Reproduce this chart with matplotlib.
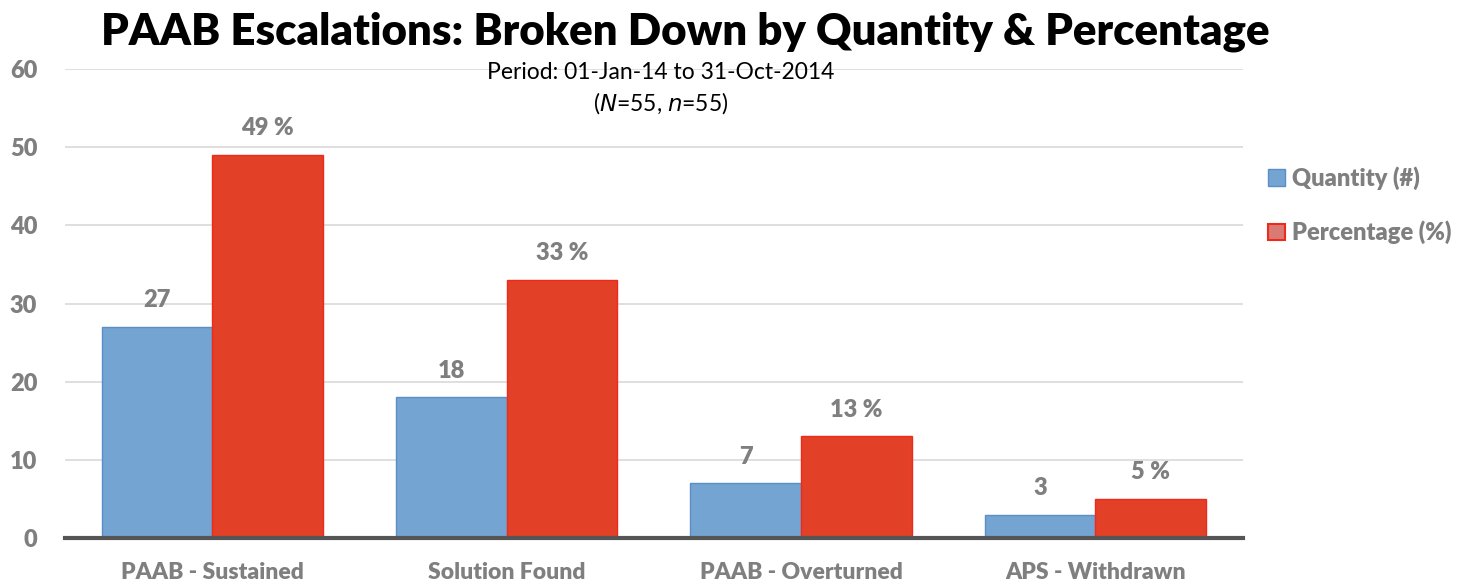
import numpy as np
import matplotlib
matplotlib.use("Agg")
import matplotlib.pyplot as plt
from matplotlib.patches import Patch

plt.rcParams['font.family'] = ['Lato', 'DejaVu Sans']

categories = ['PAAB - Sustained', 'Solution Found', 'PAAB - Overturned', 'APS - Withdrawn']
quantity = [27, 18, 7, 3]
percentage = [49, 33, 13, 5]
yticks = [0, 10, 20, 30, 40, 50, 60]

blue = '#73A4D2'
blue_edge = '#5B8EC7'
red = '#E34028'
red_edge = '#EE2A1A'
grey = '#7F7F7F'

fig = plt.figure(figsize=(14.62, 5.85), dpi=100)
ax = fig.add_axes([0.0445, 0.0803, 0.8055, 0.8017])

x = np.arange(len(categories))
w = 0.376
ax.bar(x - w / 2, quantity, w, color=blue, edgecolor=blue_edge, linewidth=1, zorder=3)
ax.bar(x + w / 2, percentage, w, color=red, edgecolor=red_edge, linewidth=1, zorder=3)

for xi, q, p in zip(x, quantity, percentage):
    ax.text(xi - w / 2, q + 2.0, str(q), ha='center', va='bottom',
            fontsize=17, fontweight='heavy', color=grey)
    ax.text(xi + w / 2, p + 2.0, f'{p} %', ha='center', va='bottom',
            fontsize=17, fontweight='heavy', color=grey)

ax.set_xlim(-0.5, 3.5)
ax.set_ylim(0, 60)
ax.set_yticks(yticks)
ax.set_yticklabels([str(t) for t in yticks], fontsize=17, fontweight='heavy', color=grey)
ax.set_xticks(x)
ax.set_xticklabels(categories, fontsize=16.5, fontweight='heavy', color=grey)
ax.tick_params(axis='both', length=0)
ax.tick_params(axis='x', pad=17)
ax.tick_params(axis='y', pad=20)

ax.grid(axis='y', color='#D9D9D9', linewidth=1.2, zorder=0)
for s in ['top', 'right', 'left']:
    ax.spines[s].set_visible(False)
ax.spines['bottom'].set_color('#555555')
ax.spines['bottom'].set_linewidth(3)
ax.spines['bottom'].set_zorder(4)

fig.text(0.469, 0.945, 'PAAB Escalations: Broken Down by Quantity & Percentage',
         ha='center', va='center', fontsize=31.5, fontweight='heavy', color='black')
fig.text(0.452, 0.876, 'Period: 01-Jan-14 to 31-Oct-2014', ha='center', va='center',
         fontsize=16.5, color='black')
fig.text(0.452, 0.823, r'($\mathit{N}$=55, $\mathit{n}$=55)', ha='center', va='center',
         fontsize=16.5, color='black')

handles = [Patch(facecolor=blue, edgecolor=blue_edge, label='Quantity (#)'),
           Patch(facecolor='#D97A74', edgecolor=red_edge, linewidth=1.5, label='Percentage (%)')]
leg = fig.legend(handles=handles, loc='center left', bbox_to_anchor=(0.853, 0.649),
                 frameon=False, handlelength=0.7, handleheight=0.7, handletextpad=0.3,
                 labelspacing=1.3, prop={'size': 17, 'weight': 'heavy'})
for t in leg.get_texts():
    t.set_color(grey)

fig.savefig('out.png', dpi=100)
